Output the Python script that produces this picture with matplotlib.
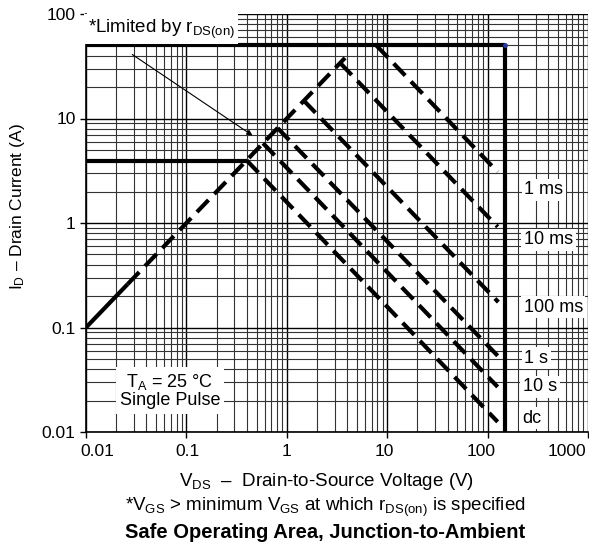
import matplotlib
matplotlib.use("Agg")
from matplotlib import pyplot as plt
from matplotlib.ticker import LogLocator, NullFormatter
from matplotlib.transforms import ScaledTranslation

plt.rcParams["font.family"] = ["Liberation Sans", "DejaVu Sans"]
plt.rcParams["mathtext.fontset"] = "custom"
plt.rcParams["mathtext.rm"] = "Liberation Sans"
plt.rcParams["mathtext.it"] = "Liberation Sans:italic"

# limits
v_max = 150        # V, vertical limit
i_max = 50         # A, horizontal limit
i_cont = 3.96      # A, short solid limit at the left

# r_DS(on) line end points
rds_v = [0.01, 0.026, 3.8]
rds_i = [0.1, 0.26, 38]

# pulse curves: start (apex) and end points
pulse_labels = ["1 ms", "10 ms", "100 ms", "1 s", "10 s", "dc"]
v_start = [7.8, 3.4, 1.48, 0.81, 0.58, 0.40]
i_start = [50, 34, 14.8, 8.1, 5.8, 3.96]
v_end = [126, 126, 128, 138, 126, 126]
i_end = [3.08, 0.92, 0.175, 0.049, 0.027, 0.0125]
label_v = [232, 230, 228, 232, 226, 220]
label_i = [2.07, 0.69, 0.157, 0.051, 0.027, 0.0136]

xticks = [0.01, 0.1, 1, 10, 100, 1000]
xtick_labels = ["0.01", "0.1", "1", "10", "100", "1000"]
yticks = [0.01, 0.1, 1, 10, 100]
ytick_labels = ["0.01", "0.1", "1", "10", "100"]

fig = plt.figure(figsize=(5.89, 5.44), dpi=100)
ax = fig.add_axes([86 / 589, 1 - 432 / 544, 502 / 589, 418 / 544])
ax.set_xscale("log")
ax.set_yscale("log")
ax.set_xlim(0.01, 1000)
ax.set_ylim(0.01, 100)

ax.xaxis.set_minor_locator(LogLocator(base=10, subs=range(2, 10)))
ax.yaxis.set_minor_locator(LogLocator(base=10, subs=range(2, 10)))
ax.xaxis.set_minor_formatter(NullFormatter())
ax.yaxis.set_minor_formatter(NullFormatter())
ax.grid(True, which="major", color="black", lw=1.0)
ax.grid(True, which="minor", color="0.2", lw=0.8)
ax.set_axisbelow(True)

ax.set_xticks(xticks)
ax.set_xticklabels(xtick_labels)
ax.set_yticks(yticks)
ax.set_yticklabels(ytick_labels)
ax.tick_params(which="major", length=4, width=1, labelsize=12.5, direction="out")
ax.tick_params(axis="x", pad=5)
ax.tick_params(which="minor", length=0)
# the end labels sit inside the frame in the original
for lab, dx in zip(ax.get_xticklabels(), [11, 1, 0, -3, -6, -21]):
    lab.set_transform(lab.get_transform() + ScaledTranslation(dx / 100, 0, fig.dpi_scale_trans))

for s in ["top", "right"]:
    ax.spines[s].set_visible(False)
ax.spines["left"].set_linewidth(1.2)
ax.spines["bottom"].set_linewidth(1.2)

lw = 3.0
dash = (4, 2)

# solid limits
ax.plot([0.01, v_max], [i_max, i_max], color="black", lw=lw, solid_capstyle="butt")
ax.plot([v_max, v_max], [i_max, 0.01], color="black", lw=lw, solid_capstyle="butt")
ax.plot([0.01, v_start[-1]], [i_cont, i_cont], color="black", lw=lw, solid_capstyle="butt")
ax.plot([v_max], [i_max], marker="o", ms=2.5, color="#2a3a9a", zorder=5)

# r_DS(on) line
ax.plot(rds_v[:2], rds_i[:2], color="black", lw=lw, solid_capstyle="butt")
ax.plot(rds_v[1:], rds_i[1:], color="black", lw=lw, dashes=dash, dash_capstyle="butt")

# pulse curves
for k in range(len(pulse_labels)):
    ax.plot([v_start[k], v_end[k]], [i_start[k], i_end[k]], color="black", lw=lw,
            dashes=dash, dash_capstyle="butt")
    ax.text(label_v[k], label_i[k], pulse_labels[k], fontsize=13, ha="left", va="center",
            bbox=dict(facecolor="white", edgecolor="none", pad=2))

# annotations
ax.text(0.0104, 72, r"*Limited by r$_{\mathrm{DS(on)}}$", fontsize=13.5, ha="left", va="center",
        bbox=dict(facecolor="white", edgecolor="none", pad=2.5))
ax.annotate("", xy=(0.48, 6.65), xytext=(0.0274, 42.4),
            arrowprops=dict(arrowstyle="-|>", color="black", lw=0.8, mutation_scale=8))
ax.text(0.0686, 0.0247, "T$_\\mathrm{A}$ = 25 °C\nSingle Pulse", fontsize=13,
        ha="center", va="center", linespacing=1.0,
        bbox=dict(facecolor="white", edgecolor="none", pad=3))

ax.set_ylabel(r"I$_\mathrm{D}$ – Drain Current (A)", fontsize=12.5)
ax.yaxis.set_label_coords(-0.117, 0.538)
fig.text(326 / 589, 1 - 481 / 544, r"V$_\mathrm{DS}$  –  Drain-to-Source Voltage (V)",
         fontsize=13.5, ha="center", va="center")
fig.text(325 / 589, 1 - 507 / 544,
         r"*V$_\mathrm{GS}$ > minimum V$_\mathrm{GS}$ at which r$_{\mathrm{DS(on)}}$ is specified",
         fontsize=13.5, ha="center", va="center")
fig.text(325 / 589, 1 - 533 / 544, "Safe Operating Area, Junction-to-Ambient", fontsize=14.5,
         fontweight="bold", ha="center", va="center")

fig.savefig("out.png", dpi=100)
